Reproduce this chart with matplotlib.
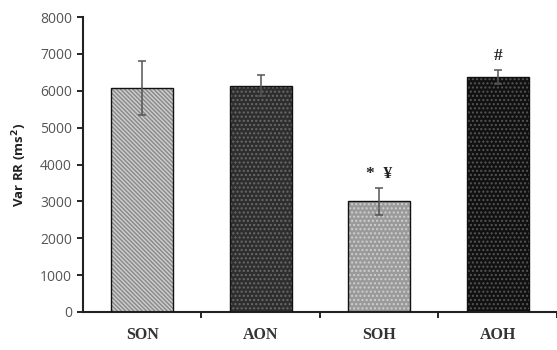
import matplotlib
matplotlib.use("Agg")
import matplotlib.pyplot as plt

groups = ["SON", "AON", "SOH", "AOH"]
var_rr = [6080, 6140, 3000, 6380]
err = [730, 280, 370, 190]
marks = ["", "", "*  \u00a5", "#"]

face = ["#8c8c8c", "#2e2e2e", "#9a9a9a", "#111111"]
hatch_col = ["#d0d0d0", "#6a6a6a", "#cfcfcf", "#555555"]
hatches = ["\\\\\\\\\\\\\\\\", "....", "....", "...."]

fig = plt.figure(figsize=(5.57, 3.5), dpi=100)
ax = fig.add_axes([0.149, 0.109, 0.851, 0.842])

x = range(len(groups))
for i in x:
    ax.bar(i, var_rr[i], width=0.52, color=face[i], hatch=hatches[i],
           edgecolor=hatch_col[i], linewidth=0, zorder=2)
ax.bar(x, var_rr, width=0.52, fill=False, edgecolor="#111111", linewidth=1.0, zorder=3)
ax.errorbar(x, var_rr, yerr=err, fmt="none", ecolor="#555555", elinewidth=1.1,
            capsize=3, capthick=1.1, zorder=4)

for i in x:
    if marks[i]:
        ax.text(i, var_rr[i] + err[i] + 150, marks[i], ha="center", va="bottom",
                fontsize=12.5, fontweight="bold", family="Liberation Serif", color="#222222")

ax.set_xlim(-0.5, 3.5)
ax.set_ylim(0, 8000)
ax.set_yticks(range(0, 8001, 1000))
ax.tick_params(axis="y", labelsize=10, labelcolor="#555555", length=4, width=1.2, pad=4)
for lab in ax.get_yticklabels():
    lab.set_family("Open Sans")

ax.set_xticks(list(x))
ax.set_xticklabels(groups, family="Liberation Serif", fontweight="bold", fontsize=11.5,
                   color="#333333")
ax.tick_params(axis="x", which="major", length=0, pad=11)
ax.set_xticks([0.5, 1.5, 2.5, 3.5], minor=True)
ax.tick_params(axis="x", which="minor", length=4, width=1.2)

ax.set_ylabel("Var RR (ms$^\\mathbf{2}$)", fontsize=9.5, fontweight="bold",
              family="Open Sans", labelpad=8, color="#222222")

for s in ["top", "right"]:
    ax.spines[s].set_visible(False)
for s in ["left", "bottom"]:
    ax.spines[s].set_linewidth(1.5)
    ax.spines[s].set_color("#222222")

fig.savefig("out.png", dpi=100)
